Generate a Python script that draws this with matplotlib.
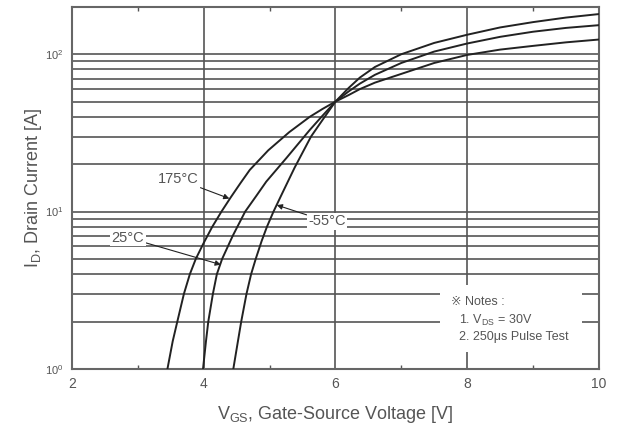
import matplotlib
matplotlib.use("Agg")
import numpy as np
from matplotlib import pyplot as plt
from matplotlib.patches import Rectangle

plt.rcParams['font.family'] = ['Liberation Sans', 'DejaVu Sans']
plt.rcParams['mathtext.fontset'] = 'custom'
plt.rcParams['mathtext.rm'] = 'Liberation Sans'
plt.rcParams['mathtext.it'] = 'Liberation Sans:italic'

# transfer characteristics (Vgs [V], Id [A])
vgs_175 = [3.45, 3.53, 3.60, 3.70, 3.79, 3.88, 3.99, 4.13, 4.27, 4.41, 4.56, 4.70, 4.98, 5.30, 5.61, 5.80,
           6.00, 6.20, 6.37, 6.60, 7.00, 7.50, 8.00, 8.50, 9.00, 9.50, 10.0]
id_175 = [1.0, 1.5, 2.0, 3.0, 4.0, 5.0, 6.2, 8.0, 10.0, 12.3, 15.2, 18.4, 24.5, 32.0, 40.0, 44.8,
          50.0, 55.0, 60.0, 66.0, 75.0, 88.0, 99.0, 107.0, 113.0, 119.0, 124.0]

vgs_25 = [3.99, 4.035, 4.07, 4.14, 4.20, 4.28, 4.44, 4.63, 4.80, 4.95, 5.26, 5.61, 5.80,
          6.00, 6.20, 6.37, 6.60, 7.00, 7.50, 8.00, 8.50, 9.00, 9.50, 10.0]
id_25 = [1.0, 1.5, 2.0, 3.0, 4.0, 5.0, 7.0, 10.0, 12.6, 15.5, 22.0, 33.0, 40.5,
         50.0, 58.0, 65.0, 74.0, 88.0, 104.0, 117.0, 129.0, 139.0, 147.0, 153.0]

vgs_m55 = [4.45, 4.52, 4.57, 4.65, 4.72, 4.79, 4.88, 4.96, 5.06, 5.19, 5.38, 5.63, 5.80,
           6.00, 6.20, 6.37, 6.60, 7.00, 7.50, 8.00, 8.50, 9.00, 9.50, 10.0]
id_m55 = [1.0, 1.5, 2.0, 3.0, 4.0, 5.0, 6.5, 8.0, 10.0, 13.0, 19.0, 30.0, 38.0,
          50.0, 61.0, 71.0, 83.0, 100.0, 118.0, 133.0, 148.0, 160.0, 171.0, 180.0]

x_ticks = [2, 4, 6, 8, 10]
y_ticks = [1, 10, 100]
y_labels = [r'$10^0$', r'$10^1$', r'$10^2$']

txt = '#555555'
fig = plt.figure(figsize=(6.2, 4.29), dpi=100)
ax = fig.add_axes([0.116, 0.140, 0.850, 0.844])

for v, i in [(vgs_175, id_175), (vgs_25, id_25), (vgs_m55, id_m55)]:
    ax.plot(v, i, color='#222222', lw=1.4, zorder=3)

ax.set_yscale('log')
ax.set_xlim(2, 10)
ax.set_ylim(1, 200)
ax.set_xticks(x_ticks)
ax.set_xticks([3, 5, 7, 9], minor=True)
ax.set_yticks(y_ticks)
ax.set_yticklabels(y_labels, fontsize=8, color=txt)
ax.set_xticklabels([str(t) for t in x_ticks], fontsize=10, color=txt)
ax.tick_params(which='both', direction='in', top=True, right=True, color='#555555')
ax.tick_params(which='major', length=0, pad=6)
ax.tick_params(which='minor', length=3, width=1)
ax.tick_params(axis='y', which='minor', length=0)

ax.set_axisbelow(True)
ax.grid(True, axis='x', which='major', color='#555555', lw=1.2)
ax.grid(True, axis='y', which='both', color='#555555', lw=1.2)
for s in ax.spines.values():
    s.set_color('#666666')
    s.set_linewidth(1.5)

ax.set_xlabel(r'V$_{\rm GS}$, Gate-Source Voltage [V]', fontsize=13, color=txt, labelpad=9)
ax.set_ylabel(r'I$_{\rm D}$, Drain Current [A]', fontsize=13, color=txt, labelpad=1)

# notes box blanks the grid behind it
ax.add_patch(Rectangle((0.698, 0.047), 0.27, 0.185, transform=ax.transAxes,
                       facecolor='white', edgecolor='none', zorder=1))
ax.text(0.72, 0.185, '※ Notes :', transform=ax.transAxes, fontsize=9, color=txt, va='center', zorder=4)
ax.text(0.735, 0.135, r'1. V$_{\rm DS}$ = 30V', transform=ax.transAxes, fontsize=9, color=txt, va='center', zorder=4)
ax.text(0.735, 0.088, '2. 250μs Pulse Test', transform=ax.transAxes, fontsize=9, color=txt, va='center', zorder=4)

arrow = dict(arrowstyle='-|>', color='#222222', lw=0.8, mutation_scale=8, shrinkA=0, shrinkB=0)
box = dict(facecolor='white', edgecolor='none', pad=1)
ax.annotate('175°C', xy=(4.39, 12.1), xytext=(3.62, 16.0), fontsize=10.5, color=txt,
            ha='center', va='center', arrowprops=arrow, bbox=box, zorder=4)
ax.annotate('25°C', xy=(4.26, 4.6), xytext=(2.85, 6.83), fontsize=10.5, color=txt,
            ha='center', va='center', arrowprops=arrow, bbox=box, zorder=4)
ax.annotate('-55°C', xy=(5.11, 11.0), xytext=(5.87, 8.65), fontsize=10.5, color=txt,
            ha='center', va='center', arrowprops=arrow, bbox=box, zorder=4)

fig.savefig('out.png', dpi=100)
